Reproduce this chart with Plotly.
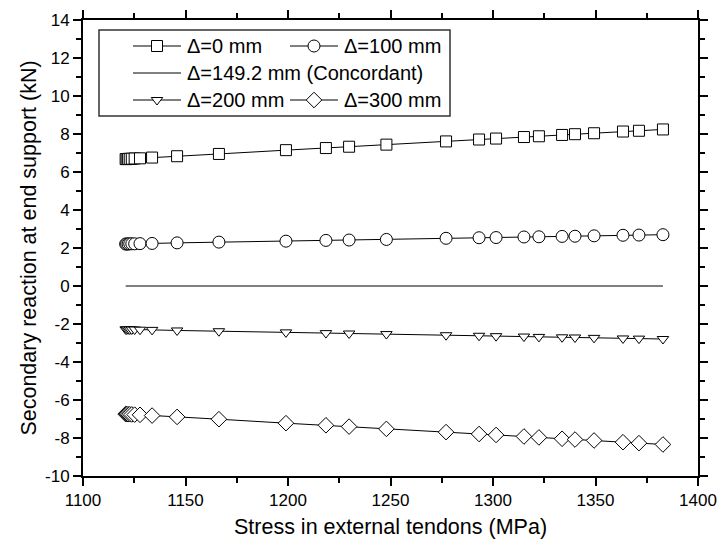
import math
import plotly.graph_objects as go

# stress in external tendons (MPa), shared by all series
stress = [1120.8, 1121.3, 1122.0, 1122.8, 1123.8, 1125.2, 1127.8, 1133.7, 1145.9, 1166.3,
          1199.0, 1218.5, 1229.8, 1248.0, 1277.1, 1293.2, 1301.5, 1315.1, 1322.4, 1333.7,
          1340.0, 1349.3, 1363.4, 1371.2, 1382.9]

# secondary reaction at end support (kN)
r_0 = [6.68, 6.68, 6.69, 6.69, 6.70, 6.71, 6.72, 6.76, 6.83, 6.95,
       7.15, 7.26, 7.33, 7.44, 7.61, 7.71, 7.76, 7.84, 7.88, 7.95,
       7.99, 8.04, 8.13, 8.17, 8.24]
r_100 = [2.21, 2.21, 2.21, 2.22, 2.22, 2.22, 2.23, 2.24, 2.27, 2.31,
         2.36, 2.40, 2.42, 2.45, 2.51, 2.54, 2.55, 2.58, 2.59, 2.61,
         2.62, 2.64, 2.67, 2.68, 2.70]
r_149 = [0.0] * len(stress)
r_200 = [-2.28, -2.28, -2.28, -2.29, -2.29, -2.29, -2.30, -2.31, -2.34, -2.38,
         -2.44, -2.48, -2.50, -2.53, -2.59, -2.62, -2.64, -2.66, -2.68, -2.70,
         -2.71, -2.73, -2.76, -2.77, -2.79]
r_300 = [-6.74, -6.74, -6.75, -6.75, -6.76, -6.77, -6.78, -6.82, -6.89, -7.01,
         -7.22, -7.33, -7.40, -7.52, -7.69, -7.79, -7.84, -7.92, -7.97, -8.04,
         -8.08, -8.13, -8.22, -8.27, -8.34]

names = ["\u0394=0 mm", "\u0394=100 mm", "\u0394=149.2 mm (Concordant)", "\u0394=200 mm", "\u0394=300 mm"]

# tick labels (plain hyphen for negatives, like the original)
x_ticks = [1100, 1150, 1200, 1250, 1300, 1350, 1400]
y_ticks = [-10, -8, -6, -4, -2, 0, 2, 4, 6, 8, 10, 12, 14]

FONT = "Arial, Liberation Sans, sans-serif"
W, H = 721, 547
L, R, T, B = 83, 23, 20, 71
PW, PH = W - L - R, H - T - B

# pixel -> paper helpers for the hand-made legend
def px(x):
    return (x - L) / PW

def py(y):
    return (H - B - y) / PH

fig = go.Figure()

series = [
    (r_0, 'square', 11),
    (r_100, 'circle', 12),
    (r_149, None, 0),
    (r_200, 'triangle-down', 10),
    (r_300, 'diamond', 12),
]
for (y, symbol, size), name in zip(series, names):
    fig.add_trace(go.Scatter(
        x=stress, y=y, name=name, showlegend=False,
        mode='lines+markers' if symbol else 'lines',
        line=dict(color='black', width=1),
        marker=dict(symbol=symbol or 'circle', size=size, color='white',
                    line=dict(color='black', width=1)),
    ))

# legend: frame, sample lines, glyphs and labels (laid out in pixels)
fig.add_shape(type='rect', xref='paper', yref='paper',
              x0=px(99), x1=px(450), y0=py(116), y1=py(30),
              line=dict(color='#333333', width=1.5), fillcolor='rgba(0,0,0,0)')

legend_slots = [  # (sample start x, row y) for each entry
    (133, 46), (290, 46), (133, 73), (133, 100), (290, 100)
]
sample_len = 48
for (y, symbol, size), name, (sx, sy) in zip(series, names, legend_slots):
    fig.add_shape(type='line', xref='paper', yref='paper',
                  x0=px(sx), x1=px(sx + sample_len), y0=py(sy), y1=py(sy),
                  line=dict(color='black', width=1))
    cx = sx + sample_len / 2
    glyph = dict(xref='paper', yref='paper', xsizemode='pixel', ysizemode='pixel',
                 xanchor=px(cx), yanchor=py(sy), fillcolor='white',
                 line=dict(color='black', width=1))
    r = size / 2
    if symbol == 'square':
        fig.add_shape(type='rect', x0=-r, x1=r, y0=-r, y1=r, **glyph)
    elif symbol == 'circle':
        fig.add_shape(type='circle', x0=-r, x1=r, y0=-r, y1=r, **glyph)
    elif symbol == 'triangle-down':
        rt = r * 2 / math.sqrt(3)
        fig.add_shape(type='path', path=f'M{-rt},{r / 2} L{rt},{r / 2} L0,{-r} Z', **glyph)
    elif symbol == 'diamond':
        rd = r * 1.3
        fig.add_shape(type='path', path=f'M{rd},0 L0,{rd} L{-rd},0 L0,{-rd} Z', **glyph)
    fig.add_annotation(x=px(sx + sample_len + 4), y=py(sy), xref='paper', yref='paper',
                       text=name, showarrow=False, xanchor='left', yanchor='middle',
                       font=dict(family=FONT, size=20, color='black'))

fig.update_layout(
    width=W, height=H,
    margin=dict(l=L, r=R, t=T, b=B),
    plot_bgcolor='white', paper_bgcolor='white',
    font=dict(family=FONT, size=17, color='black'),
    showlegend=False,
)

axis_common = dict(showline=True, linecolor='black', linewidth=2, mirror='ticks',
                   ticks='outside', ticklen=8, tickwidth=1.5, tickcolor='black',
                   showgrid=False, zeroline=False, automargin=False,
                   tickfont=dict(family=FONT, size=17, color='black'))

fig.update_xaxes(axis_common, range=[1100, 1400], tickvals=x_ticks,
                 ticktext=[str(v) for v in x_ticks],
                 minor=dict(dtick=25, tick0=1100, ticks='outside', ticklen=5,
                            tickcolor='black', tickwidth=1.5),
                 title=dict(text='Stress in external tendons (MPa)', standoff=10,
                            font=dict(family=FONT, size=21.5, color='black')))
fig.update_yaxes(axis_common, range=[-10, 14], tickvals=y_ticks,
                 ticktext=[str(v) for v in y_ticks],
                 minor=dict(dtick=1, tick0=-10, ticks='outside', ticklen=5,
                            tickcolor='black', tickwidth=1.5),
                 title=dict(text='Secondary reaction at end support (kN)', standoff=2,
                            font=dict(family=FONT, size=21.5, color='black')))

# the page body has a default 8px margin; drop it so the figure sits at 0,0
fig.write_html("out.html", config={'displayModeBar': False},
               post_script="document.body.style.margin='0';")
